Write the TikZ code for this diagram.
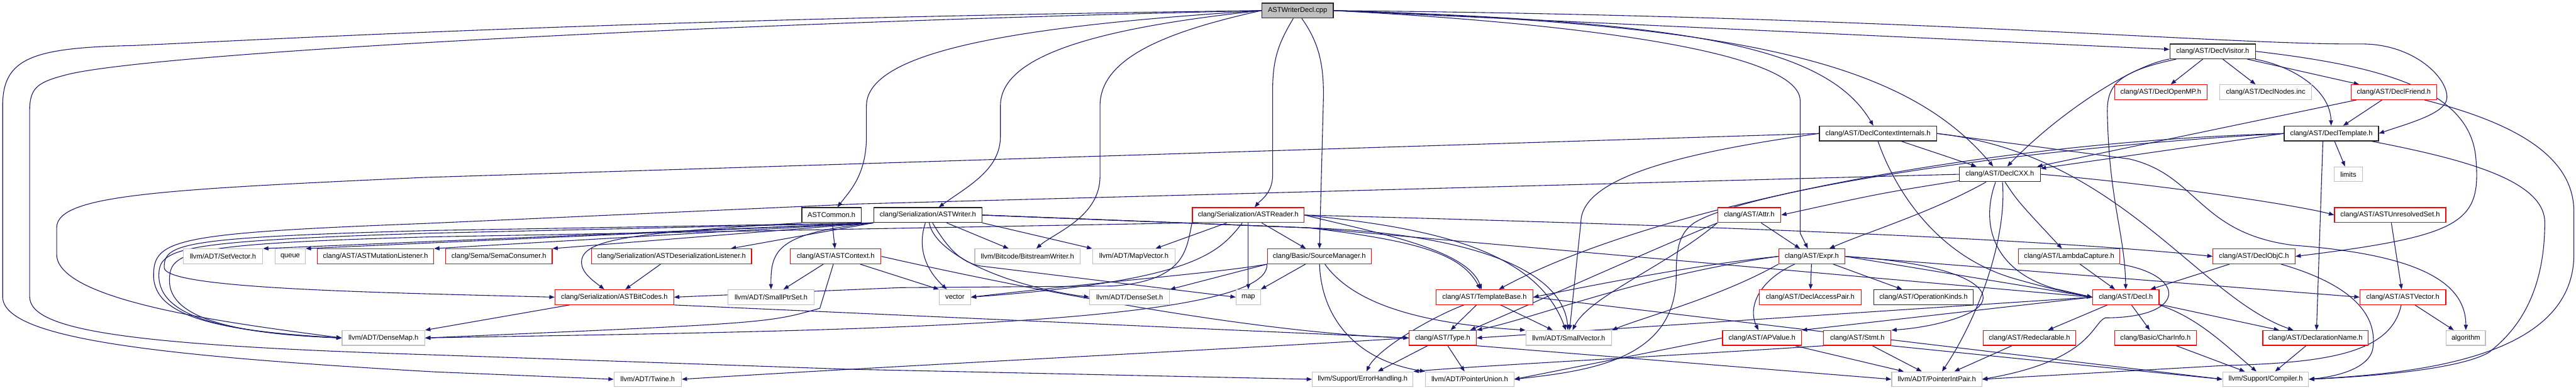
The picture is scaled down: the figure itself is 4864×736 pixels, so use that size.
\documentclass[tikz,border=0pt]{standalone}
\usepackage{fontspec}
\setmainfont{Liberation Sans}
\usetikzlibrary{arrows.meta}
\pgfdeclarelayer{bg}
\pgfsetlayers{bg,main}
\definecolor{gry}{HTML}{BFBFBF}
\definecolor{edgec}{HTML}{191970}
\tikzset{
 nbase/.style={rectangle, fill=white, line width=1.5pt, minimum height=28pt, inner sep=0pt, font=\fontsize{13.2}{15}\selectfont},
 nblk/.style={nbase, draw=black!85},
 nred/.style={nbase, draw=red},
 ngry/.style={nbase, draw=gry},
 nmain/.style={nbase, draw=black!85, fill=gry},
 edg/.style={draw=edgec, line width=1.3pt, -{Triangle[length=10pt,width=7.5pt]}},
}
\begin{document}
\begin{tikzpicture}[x=1pt,y=-1pt]
\useasboundingbox (0,0) rectangle (4864,736);
% row 0-4
\node[nmain, minimum width=135pt] (cpp) at (2450,20) {ASTWriterDecl.cpp};
\node[nblk, minimum width=162pt] (dvis) at (4178,97) {clang/AST/DeclVisitor.h};
\node[nred, minimum width=175pt] (domp) at (4080,174) {clang/AST/DeclOpenMP.h};
\node[ngry, minimum width=173pt] (dnodes) at (4278,174) {clang/AST/DeclNodes.inc};
\node[nred, minimum width=161pt] (dfriend) at (4520,174) {clang/AST/DeclFriend.h};
\node[nblk, minimum width=221pt] (dci) at (3546,252) {clang/AST/DeclContextInternals.h};
\node[nblk, minimum width=178pt] (dtmpl) at (4402,252) {clang/AST/DeclTemplate.h};
\node[nblk, minimum width=153pt] (dcxx) at (3776,329) {clang/AST/DeclCXX.h};
\node[ngry, minimum width=53pt] (limits) at (4434,329) {limits};
% row 5
\node[nblk, minimum width=112pt] (common) at (1570,406) {ASTCommon.h};
\node[nblk, minimum width=204pt] (writer) at (1752,406) {clang/Serialization/ASTWriter.h};
\node[nred, minimum width=211pt] (reader) at (2357,406) {clang/Serialization/ASTReader.h};
\node[nred, minimum width=119pt] (attr) at (3303,406) {clang/AST/Attr.h};
\node[nred, minimum width=210pt] (unres) at (4513,406) {clang/AST/ASTUnresolvedSet.h};
% row 6
\node[ngry, minimum width=150pt] (setvec) at (421,484) {llvm/ADT/SetVector.h};
\node[ngry, minimum width=57pt] (queue) at (548,484) {queue};
\node[nred, minimum width=220pt] (mutl) at (709,484) {clang/AST/ASTMutationListener.h};
\node[nred, minimum width=201pt] (semac) at (942,484) {clang/Sema/SemaConsumer.h};
\node[nred, minimum width=302pt] (desl) at (1268,484) {clang/Serialization/ASTDeserializationListener.h};
\node[nred, minimum width=171pt] (astctx) at (1578,484) {clang/AST/ASTContext.h};
\node[ngry, minimum width=199pt] (bsw) at (1940,484) {llvm/Bitcode/BitstreamWriter.h};
\node[ngry, minimum width=156pt] (mapvec) at (2141,484) {llvm/ADT/MapVector.h};
\node[nred, minimum width=196pt] (srcmgr) at (2491,484) {clang/Basic/SourceManager.h};
\node[nred, minimum width=125pt] (expr) at (3421,484) {clang/AST/Expr.h};
\node[nred, minimum width=191pt] (lambda) at (3907,484) {clang/AST/LambdaCapture.h};
\node[nred, minimum width=155pt] (dobjc) at (4256,484) {clang/AST/DeclObjC.h};
% row 7
\node[nred, minimum width=224pt] (bitcodes) at (1160,561) {clang/Serialization/ASTBitCodes.h};
\node[ngry, minimum width=163pt] (sptrset) at (1456,561) {llvm/ADT/SmallPtrSet.h};
\node[ngry, minimum width=59pt] (vector) at (1803,561) {vector};
\node[ngry, minimum width=151pt] (denseset) at (2133,561) {llvm/ADT/DenseSet.h};
\node[ngry, minimum width=46pt] (map) at (2357,561) {map};
\node[nred, minimum width=183pt] (tbase) at (2803,561) {clang/AST/TemplateBase.h};
\node[nred, minimum width=192pt] (dap) at (3418,561) {clang/AST/DeclAccessPair.h};
\node[nblk, minimum width=187pt] (opk) at (3632,561) {clang/AST/OperationKinds.h};
\node[nred, minimum width=125pt] (decl) at (4014,561) {clang/AST/Decl.h};
\node[nred, minimum width=162pt] (astvec) at (4537,561) {clang/AST/ASTVector.h};
% row 8
\node[ngry, minimum width=156pt] (densemap) at (724,638) {llvm/ADT/DenseMap.h};
\node[nred, minimum width=127pt] (type) at (2724,638) {clang/AST/Type.h};
\node[ngry, minimum width=162pt] (svec) at (2962,638) {llvm/ADT/SmallVector.h};
\node[nred, minimum width=149pt] (apval) at (3327,638) {clang/AST/APValue.h};
\node[nred, minimum width=127pt] (stmt) at (3507,638) {clang/AST/Stmt.h};
\node[nred, minimum width=175pt] (redecl) at (3832,638) {clang/AST/Redeclarable.h};
\node[nred, minimum width=155pt] (charinfo) at (4070,638) {clang/Basic/CharInfo.h};
\node[nred, minimum width=199pt] (dname) at (4372,638) {clang/AST/DeclarationName.h};
\node[ngry, minimum width=74pt] (algo) at (4656,638) {algorithm};
% row 9
\node[ngry, minimum width=127pt] (twine) at (1223,716) {llvm/ADT/Twine.h};
\node[ngry, minimum width=190pt] (errh) at (2573,716) {llvm/Support/ErrorHandling.h};
\node[ngry, minimum width=167pt] (punion) at (2775,716) {llvm/ADT/PointerUnion.h};
\node[ngry, minimum width=170pt] (pipair) at (3657,716) {llvm/ADT/PointerIntPair.h};
\node[ngry, minimum width=162pt] (compiler) at (4278,716) {llvm/Support/Compiler.h};

\begin{pgfonlayer}{bg}
% ASTWriterDecl.cpp
\draw[edg] (cpp.west) .. controls (1200,35) and (500,75) .. (250,86) .. controls (60,90) and (5,110) .. (5,200) -- (5,560) .. controls (5,640) and (300,672) .. (820,702) -- (twine.west);
\draw[edg] (cpp.west) .. controls (1300,45) and (300,100) .. (130,140) .. controls (70,155) and (56,165) .. (56,210) -- (56,560) .. controls (56,625) and (250,652) .. (820,670) -- (1600,697) -- (errh.west);
\draw[edg] (cpp.west) .. controls (1900,50) and (1636,100) .. (1636,200) -- (1636,257) .. controls (1636,330) and (1605,360) .. (common);
\draw[edg] (cpp.west) .. controls (2050,55) and (1889,110) .. (1889,200) -- (1889,257) .. controls (1889,320) and (1830,350) .. (writer);
\draw[edg] (cpp.west) .. controls (2200,60) and (2077,110) .. (2077,200) -- (2077,333) .. controls (2077,410) and (1990,440) .. (bsw);
\draw[edg] ([xshift=-8pt]cpp.south) .. controls (2415,80) and (2403,110) .. (2403,170) -- (2403,330) .. controls (2403,365) and (2380,378) .. (reader);
\draw[edg] ([xshift=8pt]cpp.south) .. controls (2490,80) and (2499,120) .. (2499,180) -- (srcmgr);
\draw[edg] (cpp.east) .. controls (3000,45) and (3399,100) .. (3399,190) -- (3399,440) -- (expr);
\draw[edg] (cpp.east) .. controls (3200,40) and (3450,90) .. (dci);
\draw[edg] (cpp.east) .. controls (3300,45) and (3600,120) .. (dcxx);
\draw[edg] (cpp.east) -- (dvis);
\draw[edg] (cpp.east) .. controls (3600,30) and (4200,85) .. (4457,83) .. controls (4560,82) and (4625,150) .. (4620,187) .. controls (4615,215) and (4550,232) .. (dtmpl.east);
% DeclVisitor
\draw[edg] (dvis) -- (domp);
\draw[edg] (dvis) -- (dnodes);
\draw[edg] (dvis) -- (dfriend);
\draw[edg] (dvis) .. controls (4330,125) and (4400,170) .. (dtmpl);
\draw[edg] (dvis.east) .. controls (4500,125) and (4665,170) .. (4675,300) .. controls (4685,420) and (4650,445) .. (dobjc.east);
\draw[edg] (dvis) .. controls (4020,125) and (3880,220) .. (dcxx);
\draw[edg] (dvis) .. controls (4000,135) and (3979,160) .. (3979,210) .. controls (3982,380) and (4012,440) .. (decl);
% DeclFriend
\draw[edg] (dfriend) -- (dtmpl);
\draw[edg] (dfriend) -- (dcxx);
\draw[edg] (dfriend) .. controls (4760,235) and (4860,300) .. (4860,400) -- (4860,480) .. controls (4860,680) and (4550,705) .. (compiler.east);
% DeclTemplate
\draw[edg] (dtmpl) -- (limits);
\draw[edg] (dtmpl.west) -- (dcxx);
\draw[edg] (dtmpl.west) .. controls (3700,270) and (3100,400) .. (tbase);
\draw[edg] ([xshift=-16pt]dtmpl.south) -- ([xshift=2pt]dname.north);
\draw[edg] (dtmpl) .. controls (4650,300) and (4805,340) .. (4805,420) .. controls (4805,580) and (4730,640) .. (4700,665) .. controls (4640,700) and (4450,712) .. (compiler.east);
\draw[edg] (dtmpl.west) .. controls (3800,280) and (3300,360) .. (3200,420) .. controls (3170,440) and (3165,470) .. (3165,520) .. controls (3165,680) and (3000,700) .. (punion.east);
% DeclContextInternals
\draw[edg] (dci.west) -- (800,335) .. controls (300,358) and (107,368) .. (107,430) -- (107,480) .. controls (107,570) and (450,612) .. (densemap.west);
\draw[edg] (dci) -- (dcxx);
\draw[edg] (dci.west) .. controls (3200,285) and (2985,330) .. (2985,420) -- (svec);
\draw[edg] (dci.south) .. controls (3575,350) and (3650,480) .. (3800,525) .. controls (3880,548) and (3920,555) .. (decl.west);
\draw[edg] (dci.east) .. controls (4000,290) and (4150,560) .. (dname);
\draw[edg] (dci.east) -- (4020,300) .. controls (4150,330) and (4150,440) .. (4330,463) .. controls (4560,480) and (4656,530) .. (algo);
% DeclCXX
\draw[edg] (dcxx) .. controls (3550,365) .. (attr.east);
\draw[edg] (dcxx) .. controls (3650,400) and (3520,440) .. (expr);
\draw[edg] (dcxx) .. controls (3810,380) .. (lambda);
\draw[edg] ([xshift=-8pt]dcxx.south) .. controls (3740,420) and (3760,510) .. (3880,545) -- (decl.west);
\draw[edg] (dcxx.east) .. controls (4100,350) and (4350,390) .. (unres.west);
\draw[edg] (dcxx.west) -- (1620,385) -- (800,422) .. controls (330,440) and (290,452) .. (290,520) .. controls (290,600) and (420,625) .. (densemap.west);
\draw[edg] ([xshift=5pt]dcxx.south) .. controls (3790,450) and (3735,600) .. (pipair);
% ASTCommon
\draw[edg] (common) -- (astctx);
\draw[edg] (common.south west) .. controls (1200,440) and (1098,450) .. (1098,495) .. controls (1098,515) and (1120,530) .. (bitcodes);
% ASTWriter
\draw[edg] (writer.south west) -- (setvec.north east);
\draw[edg] (writer.south west) -- (queue.north east);
\draw[edg] (writer.south west) -- (mutl.north east);
\draw[edg] (writer.south west) -- (semac.north east);
\draw[edg] (writer.south west) -- ([xshift=-40pt]desl.north east);
\draw[edg] (writer.south west) .. controls (1470,440) and (1455,470) .. (sptrset);
\draw[edg] (writer.south west) -- (820,435) .. controls (340,448) and (310,460) .. (310,505) .. controls (310,545) and (700,552) .. (bitcodes.west);
\draw[edg] (writer.south west) -- (820,440) .. controls (335,455) and (300,468) .. (300,520) .. controls (300,600) and (430,628) .. (densemap.west);
\draw[edg] (writer) -- (bsw);
\draw[edg] (writer.south east) -- (mapvec.north west);
\draw[edg] (writer) .. controls (1728,480) and (1760,520) .. (vector);
\draw[edg] (writer) .. controls (1765,480) and (1900,540) .. (denseset.west);
\draw[edg] (writer) .. controls (1790,470) and (1815,495) .. (1850,502) -- (map.west);
\draw[edg] (writer.east) -- (2470,430) .. controls (2680,455) and (2760,480) .. (tbase);
\draw[edg] (writer.east) -- (2470,430) .. controls (2750,440) and (2950,500) .. (svec);
\draw[edg] (writer.east) -- (2470,430) -- (decl.west);
% ASTReader
\draw[edg] (reader) -- (srcmgr);
\draw[edg] (reader) -- (map);
\draw[edg] (reader) -- (mapvec);
\draw[edg] (reader) .. controls (2300,480) and (2250,530) .. (vector.east);
\draw[edg] (reader.south west) -- (820,447) .. controls (345,460) and (320,475) .. (320,530) .. controls (320,600) and (440,630) .. (densemap.west);
\draw[edg] (reader.east) .. controls (2700,430) and (2900,470) .. (svec);
\draw[edg] (reader.east) .. controls (2600,440) and (2770,470) .. (tbase);
\draw[edg] (reader.east) .. controls (3000,420) and (3800,445) .. (dobjc.west);
\draw[edg] (reader.south west) .. controls (2240,470) and (2240,530) .. (2100,540) -- (1700,543) -- (bitcodes.east);
% SourceManager
\draw[edg] (srcmgr) -- (map.north east);
\draw[edg] (srcmgr.south west) -- (denseset.north east);
\draw[edg] (srcmgr.south west) .. controls (2300,515) and (2100,530) .. (vector.east);
\draw[edg] (srcmgr.south west) .. controls (2400,620) and (1500,625) .. (densemap.east);
\draw[edg] (srcmgr) .. controls (2495,600) and (2560,680) .. (punion.north west);
\draw[edg] (srcmgr) .. controls (2560,580) and (2700,612) .. (svec.north west);
% ASTContext, listeners, bitcodes
\draw[edg] (astctx) -- (sptrset);
\draw[edg] (astctx) -- (1548,582) .. controls (1450,610) .. (densemap.east);
\draw[edg] (astctx) -- (vector.north west);
\draw[edg] (astctx.east) .. controls (2000,560) and (2400,630) .. (type.west);
\draw[edg] (desl) -- (bitcodes);
\draw[edg] (bitcodes) -- (densemap.north east);
\draw[edg] (bitcodes.south east) -- (type.west);
% TemplateBase, Type
\draw[edg] (tbase) -- (type);
\draw[edg] (tbase) -- (svec);
\draw[edg] (tbase) .. controls (2700,600) and (2600,660) .. (errh);
\draw[edg] (tbase.east) -- (compiler.west);
\draw[edg] (type.west) .. controls (2400,655) and (1700,690) .. (twine.east);
\draw[edg] (type) -- (errh);
\draw[edg] (type) -- (punion);
\draw[edg] (type.south east) -- (pipair.west);
% Expr, Attr
\draw[edg] (expr) .. controls (3320,530) and (3300,580) .. (apval);
\draw[edg] (expr) -- (dap);
\draw[edg] (expr) -- (opk);
\draw[edg] (expr.east) .. controls (3740,500) and (3780,560) .. (3720,590) .. controls (3680,610) and (3620,620) .. (stmt.north east);
\draw[edg] (expr.east) -- (decl.west);
\draw[edg] (expr.east) -- (astvec.west);
\draw[edg] (expr.west) .. controls (3100,520) and (2900,600) .. (type.north east);
\draw[edg] (expr.west) .. controls (3200,500) and (3000,540) .. (tbase.east);
\draw[edg] (expr.south west) .. controls (3250,560) and (3100,600) .. (svec.north east);
\draw[edg] (attr) -- (expr);
\draw[edg] (attr.south west) .. controls (3100,480) and (2900,570) .. ([xshift=-12pt]type.north east);
\draw[edg] (attr.south west) .. controls (3150,500) and (3000,560) .. (svec);
% LambdaCapture, ASTUnresolvedSet, DeclObjC, Decl
\draw[edg] (lambda) -- (decl);
\draw[edg] (lambda.south east) .. controls (4130,520) and (4130,600) .. (3975,600) .. controls (3950,610) and (3950,680) .. (pipair.east);
\draw[edg] (unres) -- (astvec);
\draw[edg] (dobjc) -- (decl);
\draw[edg] (dobjc) .. controls (4450,540) and (4490,600) .. (4480,660) .. controls (4470,700) and (4400,712) .. (compiler.east);
\draw[edg] (decl) -- (dname);
\draw[edg] (decl.south east) .. controls (4150,600) and (4200,650) .. (compiler);
\draw[edg] (decl) -- (redecl);
\draw[edg] (decl.west) -- (apval.north east);
\draw[edg] (decl.west) -- (type.east);
\draw[edg] (decl) -- (charinfo);
% bottom rows
\draw[edg] (apval) -- (pipair);
\draw[edg] (apval.west) -- (punion.east);
\draw[edg] (stmt) -- (pipair);
\draw[edg] (stmt.south west) .. controls (3100,675) and (2800,690) .. (errh.north east);
\draw[edg] (stmt.south east) -- (compiler.west);
\draw[edg] (redecl) -- (pipair);
\draw[edg] (charinfo) -- (compiler);
\draw[edg] (dname) -- (compiler);
\draw[edg] (astvec) -- (algo);
\draw[edg] (astvec) .. controls (4515,665) and (4400,685) .. (4200,690) -- (pipair.east);
\end{pgfonlayer}
\end{tikzpicture}
\end{document}
